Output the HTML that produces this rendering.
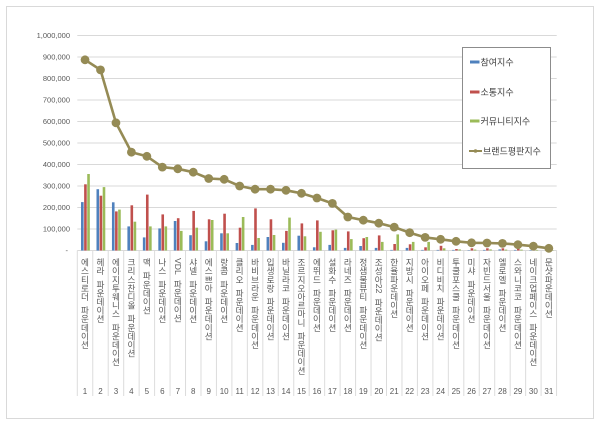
<!DOCTYPE html>
<html><head><meta charset="utf-8">
<style>
html,body{margin:0;padding:0;background:#fff;}
#w{position:relative;width:600px;height:424px;overflow:hidden;font-family:"Liberation Sans","Noto Sans CJK KR",sans-serif;}
svg{position:absolute;left:0;top:0;}
.v{position:absolute;top:258px;width:10px;margin-left:-5px;writing-mode:vertical-rl;text-orientation:mixed;font-size:8.6px;line-height:10px;color:#595959;white-space:nowrap;}
.s{display:inline-block;height:5px;width:1px;}
</style></head><body><div id="w">
<svg width="600" height="424" xmlns="http://www.w3.org/2000/svg" font-family="Liberation Sans, Noto Sans CJK KR, sans-serif">
<rect x="6.5" y="6.5" width="587" height="412" fill="#fff" stroke="#d9d9d9" stroke-width="1"/>
<g stroke="#d9d9d9" stroke-width="1">
<line x1="77.3" x2="556.7" y1="35.5" y2="35.5"/>
<line x1="77.3" x2="556.7" y1="57" y2="57"/>
<line x1="77.3" x2="556.7" y1="78.5" y2="78.5"/>
<line x1="77.3" x2="556.7" y1="100" y2="100"/>
<line x1="77.3" x2="556.7" y1="121.5" y2="121.5"/>
<line x1="77.3" x2="556.7" y1="143" y2="143"/>
<line x1="77.3" x2="556.7" y1="164.5" y2="164.5"/>
<line x1="77.3" x2="556.7" y1="186" y2="186"/>
<line x1="77.3" x2="556.7" y1="207.5" y2="207.5"/>
<line x1="77.3" x2="556.7" y1="229" y2="229"/>
<line x1="77.3" x2="556.7" y1="250.5" y2="250.5"/>
</g>
<g stroke="#dcdcdc" stroke-width="1">
<line x1="77.3" x2="77.3" y1="250.5" y2="396"/><line x1="92.76" x2="92.76" y1="250.5" y2="396"/><line x1="108.22" x2="108.22" y1="250.5" y2="396"/><line x1="123.68" x2="123.68" y1="250.5" y2="396"/><line x1="139.14" x2="139.14" y1="250.5" y2="396"/><line x1="154.6" x2="154.6" y1="250.5" y2="396"/><line x1="170.06" x2="170.06" y1="250.5" y2="396"/><line x1="185.52" x2="185.52" y1="250.5" y2="396"/><line x1="200.98" x2="200.98" y1="250.5" y2="396"/><line x1="216.44" x2="216.44" y1="250.5" y2="396"/><line x1="231.9" x2="231.9" y1="250.5" y2="396"/><line x1="247.36" x2="247.36" y1="250.5" y2="396"/><line x1="262.82" x2="262.82" y1="250.5" y2="396"/><line x1="278.28" x2="278.28" y1="250.5" y2="396"/><line x1="293.74" x2="293.74" y1="250.5" y2="396"/><line x1="309.2" x2="309.2" y1="250.5" y2="396"/><line x1="324.66" x2="324.66" y1="250.5" y2="396"/><line x1="340.12" x2="340.12" y1="250.5" y2="396"/><line x1="355.58" x2="355.58" y1="250.5" y2="396"/><line x1="371.04" x2="371.04" y1="250.5" y2="396"/><line x1="386.5" x2="386.5" y1="250.5" y2="396"/><line x1="401.96" x2="401.96" y1="250.5" y2="396"/><line x1="417.42" x2="417.42" y1="250.5" y2="396"/><line x1="432.88" x2="432.88" y1="250.5" y2="396"/><line x1="448.34" x2="448.34" y1="250.5" y2="396"/><line x1="463.8" x2="463.8" y1="250.5" y2="396"/><line x1="479.26" x2="479.26" y1="250.5" y2="396"/><line x1="494.72" x2="494.72" y1="250.5" y2="396"/><line x1="510.18" x2="510.18" y1="250.5" y2="396"/><line x1="525.64" x2="525.64" y1="250.5" y2="396"/><line x1="541.1" x2="541.1" y1="250.5" y2="396"/><line x1="556.56" x2="556.56" y1="250.5" y2="396"/>
</g>
<g font-size="7.5" fill="#595959" text-anchor="end">
<text x="70" y="38.2">1,000,000</text>
<text x="70" y="59.7">900,000</text>
<text x="70" y="81.2">800,000</text>
<text x="70" y="102.7">700,000</text>
<text x="70" y="124.2">600,000</text>
<text x="70" y="145.7">500,000</text>
<text x="70" y="167.2">400,000</text>
<text x="70" y="188.7">300,000</text>
<text x="70" y="210.2">200,000</text>
<text x="70" y="231.7">100,000</text>
<text x="68" y="253.2">-</text>
</g>
<g transform="translate(0,250.5) scale(1,-1)">
<g fill="#4f81bd">
<rect x="81.03" width="2.6" height="48.4"/><rect x="96.49" width="2.6" height="61.3"/><rect x="111.95" width="2.6" height="48.2"/><rect x="127.41" width="2.6" height="24.1"/><rect x="142.87" width="2.6" height="13.1"/><rect x="158.33" width="2.6" height="22.1"/><rect x="173.79" width="2.6" height="29.5"/><rect x="189.25" width="2.6" height="15.3"/><rect x="204.71" width="2.6" height="9.2"/><rect x="220.17" width="2.6" height="17.2"/><rect x="235.63" width="2.6" height="7.5"/><rect x="251.09" width="2.6" height="5.6"/><rect x="266.55" width="2.6" height="13.5"/><rect x="282.01" width="2.6" height="7.7"/><rect x="297.47" width="2.6" height="14.8"/><rect x="312.93" width="2.6" height="3.2"/><rect x="328.39" width="2.6" height="5.6"/><rect x="343.85" width="2.6" height="2.6"/><rect x="359.31" width="2.6" height="4.5"/><rect x="374.77" width="2.6" height="2.6"/><rect x="390.23" width="2.6" height="0.6"/><rect x="405.69" width="2.6" height="2.6"/><rect x="421.15" width="2.6" height="0.6"/><rect x="436.61" width="2.6" height="0.6"/><rect x="452.07" width="2.6" height="0.6"/><rect x="467.53" width="2.6" height="0.4"/><rect x="482.99" width="2.6" height="0.6"/><rect x="498.45" width="2.6" height="1.1"/><rect x="513.91" width="2.6" height="0.6"/><rect x="529.37" width="2.6" height="0.4"/><rect x="544.83" width="2.6" height="0.2"/>
</g>
<g fill="#c0504d">
<rect x="84.13" width="2.6" height="66.2"/><rect x="99.59" width="2.6" height="54.8"/><rect x="115.05" width="2.6" height="39.1"/><rect x="130.51" width="2.6" height="45.2"/><rect x="145.97" width="2.6" height="55.9"/><rect x="161.43" width="2.6" height="36.1"/><rect x="176.89" width="2.6" height="32.3"/><rect x="192.35" width="2.6" height="39.6"/><rect x="207.81" width="2.6" height="31.2"/><rect x="223.27" width="2.6" height="36.8"/><rect x="238.73" width="2.6" height="22.8"/><rect x="254.19" width="2.6" height="42.1"/><rect x="269.65" width="2.6" height="31.2"/><rect x="285.11" width="2.6" height="19.6"/><rect x="300.57" width="2.6" height="27.1"/><rect x="316.03" width="2.6" height="30.1"/><rect x="331.49" width="2.6" height="20.2"/><rect x="346.95" width="2.6" height="19.1"/><rect x="362.41" width="2.6" height="12.3"/><rect x="377.87" width="2.6" height="15.1"/><rect x="393.33" width="2.6" height="6.5"/><rect x="408.79" width="2.6" height="6.2"/><rect x="424.25" width="2.6" height="3.2"/><rect x="439.71" width="2.6" height="4.7"/><rect x="455.17" width="2.6" height="1.5"/><rect x="470.63" width="2.6" height="2.2"/><rect x="486.09" width="2.6" height="2.2"/><rect x="501.55" width="2.6" height="2.2"/><rect x="517.01" width="2.6" height="2.8"/><rect x="532.47" width="2.6" height="1.1"/><rect x="547.93" width="2.6" height="0.6"/>
</g>
<g fill="#9bbb59">
<rect x="87.23" width="2.6" height="76.5"/><rect x="102.69" width="2.6" height="63.4"/><rect x="118.15" width="2.6" height="40.9"/><rect x="133.61" width="2.6" height="28.8"/><rect x="149.07" width="2.6" height="24.1"/><rect x="164.53" width="2.6" height="24.1"/><rect x="179.99" width="2.6" height="19.6"/><rect x="195.45" width="2.6" height="22.8"/><rect x="210.91" width="2.6" height="30.5"/><rect x="226.37" width="2.6" height="17.2"/><rect x="241.83" width="2.6" height="33.5"/><rect x="257.29" width="2.6" height="12.5"/><rect x="272.75" width="2.6" height="15.5"/><rect x="288.21" width="2.6" height="32.9"/><rect x="303.67" width="2.6" height="14.2"/><rect x="319.13" width="2.6" height="18.7"/><rect x="334.59" width="2.6" height="20.9"/><rect x="350.05" width="2.6" height="11.4"/><rect x="365.51" width="2.6" height="13.5"/><rect x="380.97" width="2.6" height="8.6"/><rect x="396.43" width="2.6" height="16.1"/><rect x="411.89" width="2.6" height="8.6"/><rect x="427.35" width="2.6" height="8.6"/><rect x="442.81" width="2.6" height="2.2"/><rect x="458.27" width="2.6" height="1.1"/><rect x="473.73" width="2.6" height="0.9"/><rect x="489.19" width="2.6" height="1.1"/><rect x="504.65" width="2.6" height="0.9"/><rect x="520.11" width="2.6" height="0.9"/><rect x="535.57" width="2.6" height="0.6"/><rect x="551.03" width="2.6" height="0.4"/>
</g>
</g>
<polyline fill="none" stroke="#958b55" stroke-width="2.6" stroke-linejoin="round" points="85.03,59.8 100.49,69.9 115.95,122.8 131.41,152.2 146.87,156.3 162.33,167.1 177.79,168.8 193.25,172.2 208.71,178.5 224.17,179.3 239.63,186 255.09,189.2 270.55,189.2 286.01,190.3 301.47,193.3 316.93,198 332.39,203.4 347.85,217 363.31,220.2 378.77,223.2 394.23,227.1 409.69,232.7 425.15,237.4 440.61,239.3 456.07,241.3 471.53,242.8 486.99,243 502.45,243.4 517.91,244.7 533.37,246.2 548.83,248.3"/>
<g fill="#958b55">
<circle cx="85.03" cy="59.8" r="4.4"/><circle cx="100.49" cy="69.9" r="4.4"/><circle cx="115.95" cy="122.8" r="4.4"/><circle cx="131.41" cy="152.2" r="4.4"/><circle cx="146.87" cy="156.3" r="4.4"/><circle cx="162.33" cy="167.1" r="4.4"/><circle cx="177.79" cy="168.8" r="4.4"/><circle cx="193.25" cy="172.2" r="4.4"/><circle cx="208.71" cy="178.5" r="4.4"/><circle cx="224.17" cy="179.3" r="4.4"/><circle cx="239.63" cy="186" r="4.4"/><circle cx="255.09" cy="189.2" r="4.4"/><circle cx="270.55" cy="189.2" r="4.4"/><circle cx="286.01" cy="190.3" r="4.4"/><circle cx="301.47" cy="193.3" r="4.4"/><circle cx="316.93" cy="198" r="4.4"/><circle cx="332.39" cy="203.4" r="4.4"/><circle cx="347.85" cy="217" r="4.4"/><circle cx="363.31" cy="220.2" r="4.4"/><circle cx="378.77" cy="223.2" r="4.4"/><circle cx="394.23" cy="227.1" r="4.4"/><circle cx="409.69" cy="232.7" r="4.4"/><circle cx="425.15" cy="237.4" r="4.4"/><circle cx="440.61" cy="239.3" r="4.4"/><circle cx="456.07" cy="241.3" r="4.4"/><circle cx="471.53" cy="242.8" r="4.4"/><circle cx="486.99" cy="243" r="4.4"/><circle cx="502.45" cy="243.4" r="4.4"/><circle cx="517.91" cy="244.7" r="4.4"/><circle cx="533.37" cy="246.2" r="4.4"/><circle cx="548.83" cy="248.3" r="4.4"/>
</g>
<g font-size="8" fill="#595959" text-anchor="middle">
<text x="85.03" y="394">1</text><text x="100.49" y="394">2</text><text x="115.95" y="394">3</text><text x="131.41" y="394">4</text><text x="146.87" y="394">5</text><text x="162.33" y="394">6</text><text x="177.79" y="394">7</text><text x="193.25" y="394">8</text><text x="208.71" y="394">9</text><text x="224.17" y="394">10</text><text x="239.63" y="394">11</text><text x="255.09" y="394">12</text><text x="270.55" y="394">13</text><text x="286.01" y="394">14</text><text x="301.47" y="394">15</text><text x="316.93" y="394">16</text><text x="332.39" y="394">17</text><text x="347.85" y="394">18</text><text x="363.31" y="394">19</text><text x="378.77" y="394">20</text><text x="394.23" y="394">21</text><text x="409.69" y="394">22</text><text x="425.15" y="394">23</text><text x="440.61" y="394">24</text><text x="456.07" y="394">25</text><text x="471.53" y="394">26</text><text x="486.99" y="394">27</text><text x="502.45" y="394">28</text><text x="517.91" y="394">29</text><text x="533.37" y="394">30</text><text x="548.83" y="394">31</text>
</g>
<rect x="462.5" y="47.5" width="88" height="121" fill="#fff" stroke="#8c8c8c" stroke-width="1"/>
<rect x="470" y="60.5" width="9.5" height="3" fill="#4f81bd"/>
<rect x="470" y="90.5" width="9.5" height="3" fill="#c0504d"/>
<rect x="470" y="119.5" width="9.5" height="3" fill="#9bbb59"/>
<line x1="469" x2="482" y1="151" y2="151" stroke="#958b55" stroke-width="2"/>
<circle cx="475.5" cy="151" r="1.8" fill="#958b55"/>
<g font-size="9" fill="#404040">
<text x="480.5" y="65.5">참여지수</text>
<text x="480.5" y="95.5">소통지수</text>
<text x="480.5" y="124.5">커뮤니티지수</text>
<text x="483" y="154.5">브랜드평판지수</text>
</g>
</svg>
<div class="v" style="left:85.03px">에스티로더<span class="s"></span>파운데이션</div>
<div class="v" style="left:100.49px">헤라<span class="s"></span>파운데이션</div>
<div class="v" style="left:115.95px">에이지투웨니스<span class="s"></span>파운데이션</div>
<div class="v" style="left:131.41px">크리스찬디올<span class="s"></span>파운데이션</div>
<div class="v" style="left:146.87px">맥<span class="s"></span>파운데이션</div>
<div class="v" style="left:162.33px">나스<span class="s"></span>파운데이션</div>
<div class="v" style="left:177.79px">VDL<span class="s"></span>파운데이션</div>
<div class="v" style="left:193.25px">샤넬<span class="s"></span>파운데이션</div>
<div class="v" style="left:208.71px">에스쁘아<span class="s"></span>파운데이션</div>
<div class="v" style="left:224.17px">랑콤<span class="s"></span>파운데이션</div>
<div class="v" style="left:239.63px">클리오<span class="s"></span>파운데이션</div>
<div class="v" style="left:255.09px">바비브라운<span class="s"></span>파운데이션</div>
<div class="v" style="left:270.55px">입생로랑<span class="s"></span>파운데이션</div>
<div class="v" style="left:286.01px">바닐라코<span class="s"></span>파운데이션</div>
<div class="v" style="left:301.47px">조르지오아르마니<span class="s"></span>파운데이션</div>
<div class="v" style="left:316.93px">에뛰드<span class="s"></span>파운데이션</div>
<div class="v" style="left:332.39px">설화수<span class="s"></span>파운데이션</div>
<div class="v" style="left:347.85px">라네즈<span class="s"></span>파운데이션</div>
<div class="v" style="left:363.31px">정샘물뷰티<span class="s"></span>파운데이션</div>
<div class="v" style="left:378.77px">조성아22<span class="s"></span>파운데이션</div>
<div class="v" style="left:394.23px">한율파운데이션</div>
<div class="v" style="left:409.69px">지방시<span class="s"></span>파운데이션</div>
<div class="v" style="left:425.15px">아이오페<span class="s"></span>파운데이션</div>
<div class="v" style="left:440.61px">비디비치<span class="s"></span>파운데이션</div>
<div class="v" style="left:456.07px">투쿨포스쿨<span class="s"></span>파운데이션</div>
<div class="v" style="left:471.53px">미샤<span class="s"></span>파운데이션</div>
<div class="v" style="left:486.99px">자빈드서울<span class="s"></span>파운데이션</div>
<div class="v" style="left:502.45px">엘로엘<span class="s"></span>파운데이션</div>
<div class="v" style="left:517.91px">스와니코코<span class="s"></span>파운데이션</div>
<div class="v" style="left:533.37px">네이크업페이스<span class="s"></span>파운데이션</div>
<div class="v" style="left:548.83px">문샷파운데이션</div>
</div></body></html>
